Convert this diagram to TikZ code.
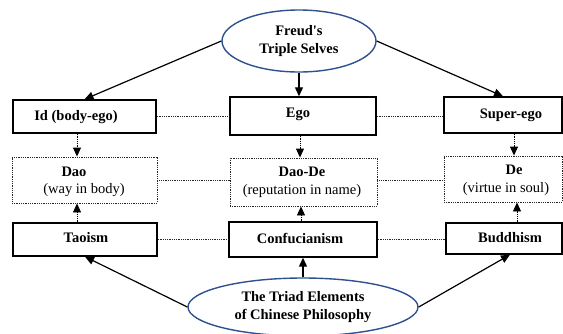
\documentclass[tikz,border=0pt]{standalone}
\usepackage{fontspec}
\setmainfont{Liberation Serif}
\usetikzlibrary{shapes.geometric,arrows.meta}
\definecolor{ellblue}{RGB}{47,82,143}
\newcommand{\diagsize}{\fontsize{14.5}{18.5}\selectfont}
\tikzset{
  solidbox/.style={draw=black, line width=1.4pt, rectangle, inner sep=0pt, fill=white},
  dotbox/.style={draw=black!85, line width=0.9pt, dash pattern=on 1pt off 0.8pt, rectangle, inner sep=0pt},
  ell/.style={draw=ellblue, line width=1.4pt, ellipse, fill=white, inner sep=0pt, align=center, font=\diagsize\bfseries},
  lbl/.style={inner sep=0pt, font=\diagsize\bfseries},
  lblr/.style={inner sep=0pt, font=\diagsize},
  arr/.style={line width=1.2pt, -{Triangle[length=9pt,width=8pt]}},
  darr/.style={line width=0.9pt, dash pattern=on 1pt off 0.8pt, -{Triangle[length=9pt,width=8pt]}},
  dline/.style={line width=0.9pt, dash pattern=on 1pt off 0.8pt, draw=black!85},
}
\begin{document}
\begin{tikzpicture}[x=1pt,y=-1pt]
\useasboundingbox (0,0) rectangle (563,333);
% boxes
\node[solidbox, minimum width=143pt, minimum height=33pt] (id) at (84.5,116.5) {};
\node[solidbox, minimum width=146pt, minimum height=38pt] (ego) at (303,116) {};
\node[solidbox, minimum width=118pt, minimum height=36pt] (sup) at (503,115) {};
\node[dotbox, minimum width=145pt, minimum height=46pt] (dao) at (84.5,180) {};
\node[dotbox, minimum width=147pt, minimum height=48pt] (dd) at (303.5,182) {};
\node[dotbox, minimum width=118pt, minimum height=46pt] (de) at (503,179) {};
\node[solidbox, minimum width=144pt, minimum height=33pt] (tao) at (85,239.5) {};
\node[solidbox, minimum width=148pt, minimum height=35pt] (conf) at (303,239.5) {};
\node[solidbox, minimum width=116pt, minimum height=31pt] (bud) at (504,238.5) {};
% labels
\node[lbl] (tid) at (76,117) {Id (body-ego)};
\node[lbl] (tego) at (298,114) {Ego};
\node[lbl] (tsup) at (511,115) {Super-ego};
\node[lbl] (tdao) at (74,172) {Dao};
\node[lblr] (tdao2) at (84,190) {(way in body)};
\node[lbl] (tdd) at (302,172) {Dao-De};
\node[lblr] (tdd2) at (302,191) {(reputation in name)};
\node[lbl] (tde) at (514,170) {De};
\node[lblr] (tde2) at (506,189) {(virtue in soul)};
\node[lbl] (ttao) at (86,238) {Taoism};
\node[lbl] (tconf) at (300,238) {Confucianism};
\node[lbl] (tbud) at (510,238) {Buddhism};
% ellipses
\node[ell, minimum width=154pt, minimum height=62pt] (top) at (299,41) {Freud\textquotesingle s\\Triple Selves};
\node[ell, minimum width=230pt, minimum height=58pt] (bot) at (303,307) {The Triad Elements\\of Chinese Philosophy};
% horizontal dotted connectors
\draw[dline] (id.east) -- (id.east -| ego.west);
\draw[dline] (ego.east |- id.east) -- (id.east -| sup.west);
\draw[dline] (dao.east) -- (dao.east -| dd.west);
\draw[dline] (dd.east |- dao.east) -- (dao.east -| de.west);
\draw[dline] (tao.east) -- (tao.east -| conf.west);
\draw[dline] (conf.east |- tao.east) -- (tao.east -| bud.west);
% solid arrows
\draw[arr] (top.west) -- (id.north);
\draw[arr] (top.east) -- (sup.north);
\draw[arr] (top.south) -- (top.south |- ego.north);
\draw[arr] (bot.west) -- (tao.south);
\draw[arr] (bot.east) -- ([xshift=6pt]bud.south);
\draw[arr] (bot.north) -- (bot.north |- conf.south);
% dotted arrows
\draw[darr] ([xshift=-7.5pt]id.south) -- ([xshift=-7.5pt]id.south |- dao.north);
\draw[darr] ([xshift=-8pt]tao.north) -- ([xshift=-8pt]tao.north |- dao.south);
\draw[darr] ([xshift=-3pt]ego.south) -- ([xshift=-3pt]ego.south |- dd.north);
\draw[darr] ([xshift=-2pt]conf.north) -- ([xshift=-2pt]conf.north |- dd.south);
\draw[darr] ([xshift=11pt]sup.south) -- ([xshift=11pt]sup.south |- de.north);
\draw[darr] ([xshift=13pt]bud.north) -- ([xshift=13pt]bud.north |- de.south);
\end{tikzpicture}
\end{document}
